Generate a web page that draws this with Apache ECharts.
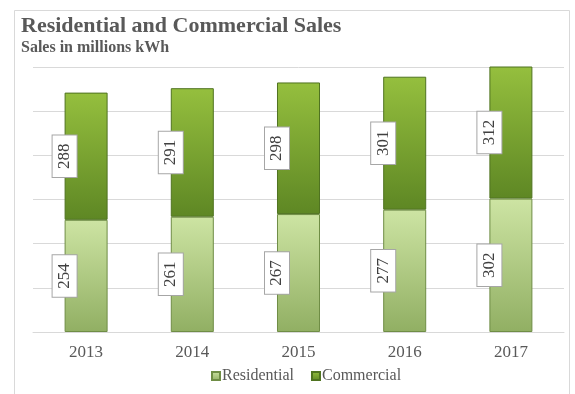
<!DOCTYPE html>
<html>
<head>
<meta charset="utf-8">
<script src="https://cdn.jsdelivr.net/npm/echarts@6/dist/echarts.min.js"></script>
<style>
  html, body { margin: 0; padding: 0; background: #ffffff; }
  #chart { width: 575px; height: 394px; }
</style>
</head>
<body>
<div id="chart"></div>
<script>
// Annual electricity sales, millions kWh
const years = ['2013', '2014', '2015', '2016', '2017'];
const residential = [254, 261, 267, 277, 302];
const commercial = [288, 291, 298, 301, 312];

const serif = '"Liberation Serif", "DejaVu Serif", serif';

function vGrad(top, bottom) {
  return new echarts.graphic.LinearGradient(0, 0, 0, 1, [
    { offset: 0, color: top },
    { offset: 1, color: bottom }
  ]);
}

// value boxes sit on the left edge of each segment, reading bottom-to-top
const valueLabel = {
  show: true,
  position: 'inside',
  rotate: 90,
  offset: [0, -21.5],
  fontFamily: serif,
  fontSize: 17,
  color: '#404040',
  backgroundColor: '#ffffff',
  borderColor: '#a6a6a6',
  borderWidth: 1,
  padding: [4, 8, 3, 8]
};

const chart = echarts.init(document.getElementById('chart'), null, { renderer: 'canvas' });

chart.setOption({
  animation: false,
  backgroundColor: '#ffffff',
  graphic: [{
    type: 'rect',
    shape: { x: 14.5, y: 10.5, width: 555, height: 420 },
    style: { fill: 'none', stroke: '#d9d9d9', lineWidth: 1 },
    silent: true,
    z: -10
  }],
  title: {
    text: 'Residential and Commercial Sales',
    subtext: 'Sales in millions kWh',
    left: 21,
    top: 15,
    itemGap: 3,
    padding: 0,
    textStyle: { fontFamily: serif, fontSize: 22, fontWeight: 'bold', color: '#595959' },
    subtextStyle: { fontFamily: serif, fontSize: 16, fontWeight: 'bold', color: '#595959' }
  },
  legend: {
    bottom: 5,
    left: 206,
    itemWidth: 8,
    itemHeight: 8,
    itemGap: 17,
    icon: 'rect',
    textStyle: { fontFamily: serif, fontSize: 16, color: '#595959', padding: [0, 0, 0, -3] },
    data: ['Residential', 'Commercial']
  },
  grid: { left: 33, right: 11, top: 67, bottom: 62 },
  xAxis: {
    type: 'category',
    data: years,
    axisTick: { show: false },
    axisLine: { lineStyle: { color: '#d9d9d9' } },
    axisLabel: { fontFamily: serif, fontSize: 17, color: '#595959', margin: 12 }
  },
  yAxis: {
    type: 'value',
    min: 0,
    max: 600,
    interval: 100,
    axisLabel: { show: false },
    axisLine: { show: false },
    axisTick: { show: false },
    splitLine: { lineStyle: { color: '#d9d9d9' } }
  },
  series: [
    {
      name: 'Residential',
      type: 'bar',
      stack: 'sales',
      barWidth: '40.5%',
      data: residential,
      clip: true,
      itemStyle: {
        color: vGrad('#cde4a3', '#91af63'),
        borderColor: '#6f8d45',
        borderWidth: 1
      },
      label: valueLabel
    },
    {
      name: 'Commercial',
      type: 'bar',
      stack: 'sales',
      data: commercial,
      clip: true,
      itemStyle: {
        color: vGrad('#95bf3e', '#5e8724'),
        borderColor: '#4f7320',
        borderWidth: 1
      },
      label: valueLabel
    }
  ]
});
</script>
</body>
</html>
